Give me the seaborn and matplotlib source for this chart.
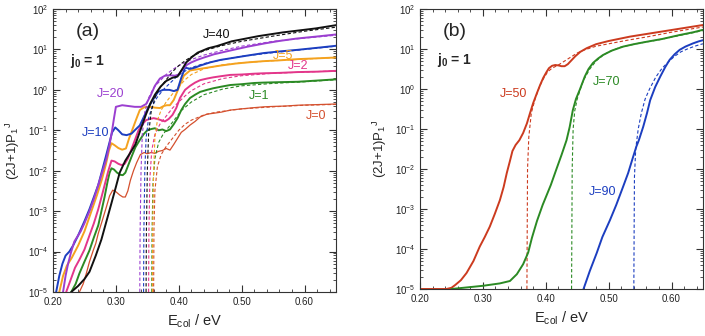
import numpy as np
import pandas as pd
import matplotlib
matplotlib.use('Agg')
import matplotlib.pyplot as plt
from matplotlib.ticker import MultipleLocator, FormatStrFormatter, LogLocator, NullFormatter
import seaborn as sns

sns.set_theme(style='ticks')
plt.rcParams['font.family'] = ['Liberation Sans', 'DejaVu Sans']
plt.rcParams['mathtext.fontset'] = 'custom'
plt.rcParams['mathtext.rm'] = 'Liberation Sans'
plt.rcParams['mathtext.it'] = 'Liberation Sans:italic'
plt.rcParams['mathtext.bf'] = 'Liberation Sans:bold'

# ---- panel (a): j0 = 1, low J ; y values are log10 of (2J+1)P1^J ----
j0_x = [0.242, 0.248, 0.253, 0.258, 0.264, 0.268, 0.272, 0.278, 0.285, 0.290, 0.295, 0.300, 0.306,
        0.311, 0.315, 0.319, 0.323, 0.328, 0.333, 0.339, 0.345, 0.350, 0.356, 0.362, 0.368, 0.374,
        0.380, 0.386, 0.392, 0.398, 0.404, 0.410, 0.418, 0.426, 0.434, 0.445, 0.455, 0.468, 0.482,
        0.50, 0.52, 0.535, 0.55, 0.57, 0.589, 0.61, 0.63, 0.65]
j0_lg = [-5.0, -4.8, -4.54, -4.25, -3.97, -3.8, -3.55, -3.25, -2.89, -2.62, -2.48, -2.52, -2.6,
         -2.65, -2.65, -2.5, -2.24, -2.0, -1.8, -1.6, -1.55, -1.58, -1.55, -1.57, -1.52, -1.5,
         -1.45, -1.49, -1.35, -1.2, -1.05, -0.98, -0.87, -0.78, -0.67, -0.6, -0.58, -0.55, -0.5,
         -0.47, -0.44, -0.42, -0.41, -0.4, -0.38, -0.37, -0.36, -0.35]
j0_dx = [0.360, 0.3605, 0.362, 0.366, 0.372, 0.38, 0.39, 0.40, 0.41, 0.42, 0.44, 0.46, 0.50,
         0.55, 0.60, 0.65]
j0_dlg = [-5.0, -3.5, -2.5, -1.9, -1.6, -1.4, -1.2, -1.0, -0.85, -0.75, -0.62, -0.55, -0.47,
          -0.42, -0.38, -0.36]

j1_x = [0.229, 0.236, 0.242, 0.25, 0.258, 0.265, 0.272, 0.277, 0.282, 0.287, 0.290, 0.293, 0.297,
        0.302, 0.307, 0.311, 0.315, 0.320, 0.325, 0.331, 0.338, 0.344, 0.350, 0.356, 0.362, 0.368,
        0.374, 0.380, 0.386, 0.392, 0.398, 0.404, 0.410, 0.418, 0.426, 0.434, 0.445, 0.455, 0.468,
        0.482, 0.50, 0.52, 0.535, 0.56, 0.589, 0.62, 0.65]
j1_lg = [-5.0, -4.8, -4.54, -4.25, -3.97, -3.65, -3.35, -3.0, -2.65, -2.25, -2.05, -1.94, -1.97,
         -2.05, -2.1, -2.11, -2.05, -1.85, -1.65, -1.42, -1.24, -1.1, -1.0, -0.97, -0.95, -1.0,
         -0.98, -1.02, -0.98, -0.85, -0.7, -0.5, -0.35, -0.2, -0.12, -0.05, 0.0, 0.04, 0.08,
         0.12, 0.14, 0.17, 0.18, 0.19, 0.2, 0.23, 0.26]
j1_dx = [0.357, 0.3575, 0.359, 0.362, 0.368, 0.375, 0.385, 0.395, 0.405, 0.42, 0.44, 0.47, 0.50,
         0.55, 0.60, 0.65]
j1_dlg = [-5.0, -3.5, -2.3, -1.7, -1.3, -1.1, -0.9, -0.7, -0.5, -0.3, -0.12, 0.02, 0.1,
          0.16, 0.2, 0.25]

j2_x = [0.221, 0.228, 0.235, 0.242, 0.25, 0.258, 0.265, 0.272, 0.278, 0.283, 0.288, 0.293, 0.298,
        0.304, 0.309, 0.314, 0.319, 0.324, 0.330, 0.336, 0.342, 0.348, 0.354, 0.360, 0.366, 0.372,
        0.378, 0.384, 0.390, 0.396, 0.402, 0.410, 0.418, 0.426, 0.434, 0.445, 0.455, 0.468, 0.482,
        0.50, 0.52, 0.535, 0.56, 0.589, 0.62, 0.65]
j2_lg = [-5.0, -4.7, -4.4, -4.2, -3.95, -3.6, -3.3, -2.95, -2.6, -2.3, -2.0, -1.75, -1.77,
         -1.83, -1.86, -1.83, -1.7, -1.5, -1.25, -1.0, -0.85, -0.75, -0.72, -0.7, -0.72, -0.75,
         -0.78, -0.72, -0.62, -0.45, -0.2, 0.0, 0.1, 0.18, 0.24, 0.28, 0.31, 0.34, 0.37,
         0.38, 0.4, 0.41, 0.42, 0.44, 0.45, 0.47]
j2_dx = [0.352, 0.3525, 0.354, 0.357, 0.362, 0.37, 0.38, 0.39, 0.40, 0.41, 0.42, 0.44, 0.47,
         0.50, 0.55, 0.60, 0.65]
j2_dlg = [-5.0, -3.5, -2.2, -1.5, -1.1, -0.85, -0.65, -0.45, -0.3, -0.15, -0.02, 0.15, 0.28,
          0.35, 0.41, 0.44, 0.47]

j5_x = [0.210, 0.216, 0.222, 0.23, 0.24, 0.25, 0.26, 0.27, 0.278, 0.284, 0.289, 0.293, 0.298,
        0.304, 0.310, 0.316, 0.321, 0.327, 0.333, 0.338, 0.345, 0.354, 0.362, 0.370, 0.376, 0.381,
        0.386, 0.392, 0.40, 0.408, 0.418, 0.426, 0.434, 0.45, 0.466, 0.49, 0.51, 0.535, 0.56,
        0.589, 0.62, 0.65]
j5_lg = [-5.0, -4.6, -4.35, -4.15, -3.85, -3.5, -3.05, -2.6, -2.2, -1.85, -1.5, -1.32, -1.37,
         -1.44, -1.48, -1.45, -1.2, -0.95, -0.7, -0.5, -0.43, -0.42, -0.44, -0.45, -0.4, -0.38,
         -0.38, -0.25, 0.05, 0.35, 0.48, 0.5, 0.52, 0.56, 0.6, 0.65, 0.68, 0.71, 0.73,
         0.76, 0.78, 0.8]
j5_dx = [0.358, 0.3585, 0.36, 0.362, 0.366, 0.372, 0.38, 0.39, 0.40, 0.41, 0.42, 0.44, 0.47,
         0.50, 0.55, 0.60, 0.65]
j5_dlg = [-5.0, -3.5, -2.0, -1.2, -0.75, -0.5, -0.3, -0.1, 0.08, 0.25, 0.38, 0.52, 0.62,
          0.67, 0.72, 0.76, 0.8]

j10_x = [0.205, 0.210, 0.215, 0.220, 0.226, 0.232, 0.24, 0.25, 0.258, 0.265, 0.272, 0.278, 0.284,
         0.289, 0.294, 0.299, 0.304, 0.310, 0.317, 0.325, 0.330, 0.338, 0.345, 0.352, 0.360,
         0.367, 0.375, 0.385, 0.392, 0.398, 0.404, 0.41, 0.418, 0.426, 0.434, 0.45, 0.466, 0.482,
         0.51, 0.535, 0.56, 0.589, 0.62, 0.65]
j10_lg = [-5.0, -4.6, -4.3, -4.1, -4.0, -3.85, -3.6, -3.25, -2.95, -2.65, -2.35, -2.0, -1.65,
          -1.35, -1.05, -0.93, -1.0, -1.1, -1.12, -1.08, -1.0, -0.88, -0.65, -0.42, -0.22,
          -0.05, 0.0, 0.0, -0.03, 0.0, 0.3, 0.55, 0.52, 0.55, 0.6, 0.68, 0.74, 0.78,
          0.85, 0.91, 0.95, 0.99, 1.04, 1.09]
j10_dx = [0.344, 0.3445, 0.346, 0.348, 0.352, 0.358, 0.365, 0.375, 0.385, 0.395, 0.405, 0.42,
          0.44, 0.47, 0.50, 0.55, 0.60, 0.65]
j10_dlg = [-5.0, -3.5, -2.0, -1.2, -0.7, -0.4, -0.2, 0.0, 0.15, 0.3, 0.42, 0.55, 0.65, 0.75,
           0.83, 0.92, 1.0, 1.08]

j20_x = [0.216, 0.220, 0.224, 0.229, 0.234, 0.238, 0.244, 0.25, 0.258, 0.265, 0.272, 0.279, 0.285,
         0.290, 0.294, 0.297, 0.300, 0.31, 0.32, 0.33, 0.34, 0.348, 0.355, 0.362, 0.37, 0.378,
         0.386, 0.394, 0.40, 0.405, 0.413, 0.42, 0.429, 0.44, 0.456, 0.484, 0.51, 0.537, 0.56,
         0.588, 0.62, 0.65]
j20_lg = [-5.0, -4.6, -4.3, -4.0, -3.75, -3.65, -3.5, -3.3, -3.0, -2.7, -2.35, -2.0, -1.7,
          -1.35, -1.0, -0.7, -0.42, -0.38, -0.4, -0.42, -0.42, -0.35, -0.15, 0.1, 0.28, 0.35,
          0.36, 0.35, 0.38, 0.49, 0.62, 0.68, 0.74, 0.8, 0.88, 0.98, 1.07, 1.15, 1.21,
          1.27, 1.32, 1.37]
j20_dx = [0.338, 0.3385, 0.34, 0.342, 0.346, 0.352, 0.36, 0.37, 0.38, 0.39, 0.40, 0.42, 0.44,
          0.47, 0.50, 0.55, 0.60, 0.65]
j20_dlg = [-5.0, -3.5, -2.0, -1.1, -0.55, -0.2, 0.05, 0.22, 0.38, 0.5, 0.6, 0.75, 0.86, 0.98,
           1.08, 1.2, 1.28, 1.35]

j40_x = [0.229, 0.24, 0.25, 0.258, 0.268, 0.277, 0.285, 0.293, 0.30, 0.306, 0.315, 0.322, 0.331,
         0.34, 0.348, 0.355, 0.362, 0.371, 0.38, 0.39, 0.398, 0.405, 0.412, 0.42, 0.43, 0.447,
         0.46, 0.484, 0.527, 0.565, 0.618, 0.65]
j40_lg = [-5.0, -4.85, -4.68, -4.5, -4.1, -3.7, -3.25, -2.8, -2.4, -2.05, -1.75, -1.58, -1.35,
          -0.95, -0.6, -0.33, -0.12, 0.08, 0.22, 0.3, 0.33, 0.5, 0.68, 0.8, 0.92, 1.03,
          1.08, 1.2, 1.33, 1.42, 1.52, 1.6]
j40_dx = [0.348, 0.3485, 0.35, 0.352, 0.356, 0.362, 0.37, 0.38, 0.39, 0.40, 0.41, 0.42, 0.44,
          0.47, 0.50, 0.55, 0.60, 0.65]
j40_dlg = [-5.0, -3.5, -2.0, -1.1, -0.55, -0.2, 0.05, 0.25, 0.45, 0.6, 0.72, 0.82, 0.97, 1.1,
           1.2, 1.33, 1.45, 1.55]

# ---- panel (b): high J ----
j50_x = [0.20, 0.242, 0.25, 0.256, 0.265, 0.274, 0.285, 0.295, 0.303, 0.311, 0.319, 0.327, 0.333,
         0.338, 0.343, 0.347, 0.352, 0.358, 0.364, 0.37, 0.375, 0.38, 0.386, 0.391, 0.396, 0.401,
         0.405, 0.41, 0.415, 0.42, 0.425, 0.43, 0.435, 0.441, 0.447, 0.455, 0.465, 0.48, 0.50,
         0.534, 0.57, 0.61, 0.65]
j50_lg = [-5.0, -5.0, -4.97, -4.9, -4.78, -4.6, -4.3, -3.94, -3.7, -3.44, -3.12, -2.78, -2.45,
          -2.1, -1.8, -1.55, -1.4, -1.28, -1.1, -0.86, -0.6, -0.35, -0.1, 0.1, 0.28, 0.42,
          0.52, 0.58, 0.6, 0.59, 0.57, 0.57, 0.62, 0.72, 0.82, 0.93, 1.02, 1.12, 1.2,
          1.31, 1.4, 1.5, 1.6]
j50_dx = [0.370, 0.3705, 0.371, 0.373, 0.377, 0.383, 0.39, 0.396, 0.403, 0.41, 0.42, 0.43, 0.44,
          0.45, 0.46, 0.48, 0.50, 0.53, 0.56, 0.60, 0.65]
j50_dlg = [-5.0, -3.5, -2.0, -1.2, -0.6, -0.25, 0.06, 0.25, 0.43, 0.52, 0.6, 0.7, 0.8, 0.9,
           0.97, 1.07, 1.13, 1.22, 1.3, 1.42, 1.55]

j70_x = [0.25, 0.30, 0.327, 0.343, 0.354, 0.364, 0.372, 0.378, 0.386, 0.395, 0.408, 0.417, 0.425,
         0.433, 0.438, 0.443, 0.448, 0.454, 0.462, 0.468, 0.475, 0.483, 0.491, 0.505, 0.523,
         0.54, 0.56, 0.585, 0.613, 0.635, 0.65]
j70_lg = [-5.0, -4.92, -4.86, -4.8, -4.63, -4.38, -4.09, -3.72, -3.3, -2.9, -2.4, -2.0, -1.65,
          -1.28, -0.95, -0.53, -0.25, -0.02, 0.31, 0.5, 0.65, 0.76, 0.85, 0.96, 1.06,
          1.12, 1.18, 1.25, 1.35, 1.42, 1.48]
j70_dx = [0.441, 0.4415, 0.442, 0.4435, 0.446, 0.45, 0.455, 0.46, 0.47, 0.48, 0.49, 0.50, 0.52,
          0.55, 0.58, 0.61, 0.65]
j70_dlg = [-5.0, -3.5, -2.0, -1.0, -0.55, -0.25, 0.0, 0.22, 0.5, 0.7, 0.83, 0.93, 1.05, 1.15,
           1.23, 1.33, 1.46]

j90_x = [0.460, 0.47, 0.481, 0.49, 0.502, 0.512, 0.523, 0.531, 0.539, 0.544, 0.548, 0.555, 0.561,
         0.566, 0.574, 0.582, 0.59, 0.597, 0.605, 0.613, 0.622, 0.634, 0.643, 0.65]
j90_lg = [-5.0, -4.55, -4.1, -3.7, -3.28, -2.9, -2.44, -2.1, -1.69, -1.44, -1.28, -0.94, -0.6,
          -0.28, 0.05, 0.31, 0.55, 0.73, 0.87, 0.98, 1.06, 1.14, 1.19, 1.22]
j90_dx = [0.540, 0.5405, 0.541, 0.543, 0.547, 0.552, 0.558, 0.565, 0.575, 0.585, 0.595, 0.605,
          0.615, 0.625, 0.635, 0.645, 0.65]
j90_dlg = [-5.0, -3.5, -2.2, -1.5, -1.0, -0.6, -0.25, 0.0, 0.3, 0.52, 0.68, 0.82, 0.93, 1.0,
           1.06, 1.11, 1.13]

C_RED, C_GREEN, C_PINK, C_ORANGE = '#d4502e', '#2b8a24', '#e3368a', '#f4a21f'
C_BLUE, C_PURPLE, C_BLACK = '#1c3ec0', '#9b3fd0', '#111111'

panel_a = [
    ('J=0', j0_x, j0_lg, j0_dx, j0_dlg, C_RED, 0.9, (0.618, -0.65)),
    ('J=1', j1_x, j1_lg, j1_dx, j1_dlg, C_GREEN, 1.4, (0.528, -0.15)),
    ('J=2', j2_x, j2_lg, j2_dx, j2_dlg, C_PINK, 1.4, (0.59, 0.58)),
    ('J=5', j5_x, j5_lg, j5_dx, j5_dlg, C_ORANGE, 1.4, (0.565, 0.84)),
    ('J=10', j10_x, j10_lg, j10_dx, j10_dlg, C_BLUE, 1.4, (0.267, -1.07)),
    ('J=20', j20_x, j20_lg, j20_dx, j20_dlg, C_PURPLE, 1.4, (0.291, -0.1)),
    ('J=40', j40_x, j40_lg, j40_dx, j40_dlg, C_BLACK, 1.4, (0.46, 1.35)),
]
panel_b = [
    ('J=50', j50_x, j50_lg, j50_dx, j50_dlg, '#cc3b1f', 1.4, (0.348, -0.12)),
    ('J=70', j70_x, j70_lg, j70_dx, j70_dlg, C_GREEN, 1.4, (0.497, 0.18)),
    ('J=90', j90_x, j90_lg, j90_dx, j90_dlg, C_BLUE, 1.4, (0.49, -2.57)),
]

fig = plt.figure(figsize=(7.05, 3.36), dpi=100)
ax_a = fig.add_axes([53 / 705, 1 - 292 / 336, 283 / 705, 283 / 336])
ax_b = fig.add_axes([420 / 705, 1 - 289 / 336, 283 / 705, 280 / 336])


def draw_panel(ax, curves, tag):
    for name, x, lg, dx, dlg, col, lw, pos in curves:
        sns.lineplot(x=dx, y=10 ** np.array(dlg), ax=ax, color=col, lw=0.8,
                     linestyle=(0, (3, 2)), estimator=None, sort=False)
        sns.lineplot(x=x, y=10 ** np.array(lg), ax=ax, color=col, lw=lw,
                     estimator=None, sort=False)
        ax.text(pos[0], 10 ** pos[1], name, color=col, fontsize=9,
                ha='center', va='center')
    ax.set_yscale('log')
    ax.set_xlim(0.20, 0.65)
    ax.set_ylim(1e-5, 1e2)
    ax.xaxis.set_major_locator(MultipleLocator(0.1))
    ax.xaxis.set_minor_locator(MultipleLocator(0.02))
    ax.xaxis.set_major_formatter(FormatStrFormatter('%.2f'))
    ax.yaxis.set_major_locator(LogLocator(base=10, numticks=10))
    ax.yaxis.set_minor_locator(LogLocator(base=10, subs=np.arange(2, 10), numticks=10))
    ax.yaxis.set_minor_formatter(NullFormatter())
    ax.tick_params(which='both', direction='in', top=True, right=True,
                   labelsize=7, colors='#333333', labelcolor='#222222')
    ax.tick_params(which='major', length=5, width=0.8)
    ax.tick_params(which='minor', length=2.5, width=0.6)
    for s in ax.spines.values():
        s.set_linewidth(0.8)
        s.set_color('#333333')
    ax.set_xlabel(r'E$_\mathrm{col}$ / eV', fontsize=10.5, labelpad=4)
    ax.set_ylabel(r'(2J+1)P$_1$$^\mathrm{J}$', fontsize=9.5, labelpad=4)
    ax.text(0.256, 10 ** 1.44, tag, fontsize=14, ha='center', va='center')
    ax.text(0.255, 10 ** 0.72, r'j$_\mathbf{0}$ = 1', fontsize=10, fontweight='bold',
            ha='center', va='center')


draw_panel(ax_a, panel_a, '(a)')
draw_panel(ax_b, panel_b, '(b)')

fig.savefig('out.png', dpi=100)
